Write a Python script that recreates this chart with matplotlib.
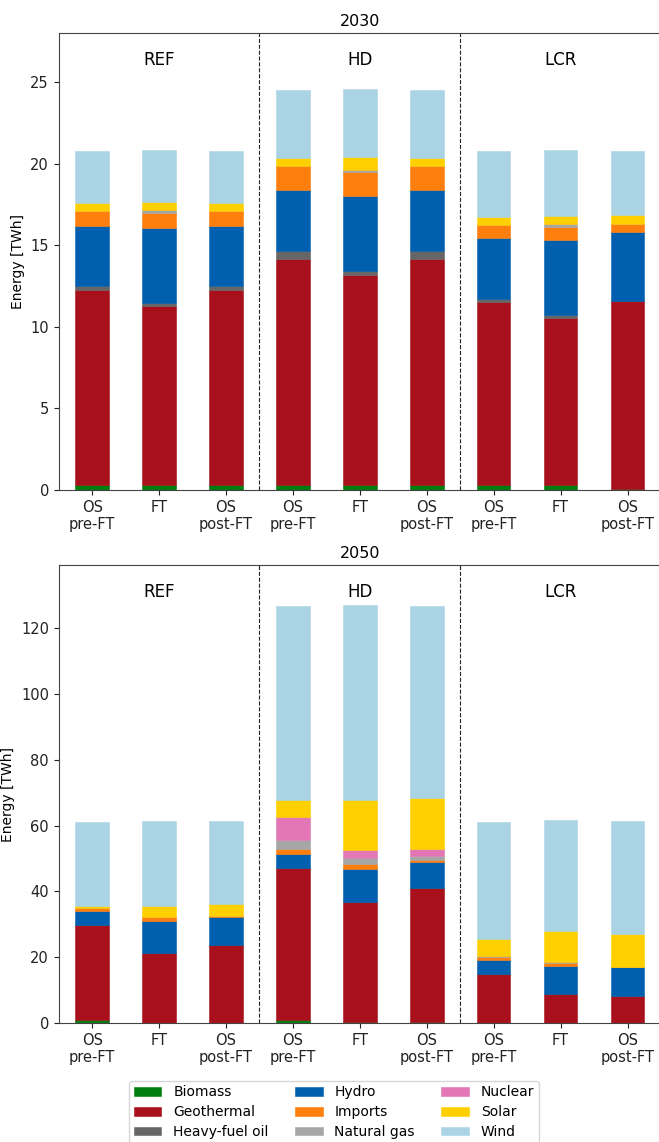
import matplotlib
matplotlib.use("Agg")
import matplotlib.pyplot as plt
from matplotlib.transforms import blended_transform_factory
import numpy as np

technologies = ["Biomass", "Geothermal", "Heavy-fuel oil", "Hydro", "Imports",
                "Natural gas", "Nuclear", "Solar", "Wind"]
colors = ["#007d0f", "#a8111b", "#666666", "#005fae", "#ff7f0e",
          "#a6a6a6", "#e377b5", "#ffd000", "#aad4e4"]

scenarios = ["REF", "HD", "LCR"]
runs = ["OS\npre-FT", "FT", "OS\npost-FT"]

# 2030 values [TWh], 9 bars: REF(pre,FT,post), HD(...), LCR(...)
y2030_biomass    = [0.30, 0.30, 0.30, 0.30, 0.30, 0.30, 0.30, 0.30, 0.05]
y2030_geothermal = [11.94, 10.97, 11.94, 13.85, 12.87, 13.85, 11.24, 10.22, 11.53]
y2030_hfo        = [0.26, 0.21, 0.26, 0.51, 0.25, 0.51, 0.16, 0.18, 0.00]
y2030_hydro      = [3.68, 4.59, 3.68, 3.70, 4.61, 3.70, 3.72, 4.62, 4.22]
y2030_imports    = [0.92, 0.92, 0.92, 1.49, 1.46, 1.49, 0.82, 0.79, 0.52]
y2030_natgas     = [0.00, 0.17, 0.00, 0.00, 0.11, 0.00, 0.00, 0.19, 0.00]
y2030_nuclear    = [0.00, 0.00, 0.00, 0.00, 0.00, 0.00, 0.00, 0.00, 0.00]
y2030_solar      = [0.50, 0.51, 0.50, 0.51, 0.80, 0.51, 0.49, 0.51, 0.53]
y2030_wind       = [3.17, 3.16, 3.17, 4.15, 4.17, 4.15, 4.04, 4.02, 3.94]

# 2050 values [TWh]
y2050_biomass    = [1.0, 0.0, 0.0, 1.0, 0.4, 0.4, 0.0, 0.0, 0.0]
y2050_geothermal = [28.9, 21.2, 23.65, 46.0, 36.55, 40.7, 14.9, 8.7, 8.3]
y2050_hfo        = [0.0, 0.0, 0.0, 0.0, 0.0, 0.0, 0.0, 0.0, 0.0]
y2050_hydro      = [4.15, 9.76, 8.55, 4.3, 9.85, 8.0, 4.3, 8.65, 8.65]
y2050_imports    = [1.0, 1.2, 0.3, 1.6, 1.7, 0.6, 0.9, 0.9, 0.0]
y2050_natgas     = [0.0, 0.0, 0.0, 2.8, 1.7, 1.1, 0.3, 0.4, 0.0]
y2050_nuclear    = [0.0, 0.0, 0.0, 7.0, 2.3, 2.0, 0.0, 0.0, 0.0]
y2050_solar      = [0.6, 3.5, 3.6, 5.0, 15.4, 15.5, 5.1, 9.3, 10.25]
y2050_wind       = [25.6, 25.8, 25.3, 59.1, 59.2, 58.4, 35.6, 33.8, 34.1]

data = {
    "2030": [y2030_biomass, y2030_geothermal, y2030_hfo, y2030_hydro, y2030_imports,
             y2030_natgas, y2030_nuclear, y2030_solar, y2030_wind],
    "2050": [y2050_biomass, y2050_geothermal, y2050_hfo, y2050_hydro, y2050_imports,
             y2050_natgas, y2050_nuclear, y2050_solar, y2050_wind],
}
ylims = {"2030": 28.0, "2050": 139.3}
yticks = {"2030": [0, 5, 10, 15, 20, 25], "2050": [0, 20, 40, 60, 80, 100, 120]}

W, H = 659, 1142
fig = plt.figure(figsize=(W / 100, H / 100), dpi=100)

positions = {"2030": [58.7 / W, 1 - 490 / H, (661 - 58.7) / W, (490 - 33) / H],
             "2050": [58.7 / W, 1 - 1023 / H, (661 - 58.7) / W, (1023 - 565) / H]}

spine_col = "#444444"
handles = None
for year in ["2030", "2050"]:
    ax = fig.add_axes(positions[year])
    x = np.arange(len(scenarios) * len(runs))
    bottom = np.zeros(len(x))
    hs = []
    for tech, col, vals in zip(technologies, colors, data[year]):
        vals = np.array(vals, dtype=float)
        h = ax.bar(x, vals, width=0.5, bottom=bottom, color=col, label=tech,
                   edgecolor=col, linewidth=0.4)
        hs.append(h)
        bottom += vals
    handles = hs
    ax.set_xlim(-0.5, len(x) - 0.5)
    ax.set_ylim(0, ylims[year])
    ax.set_yticks(yticks[year])
    ax.set_xticks(x)
    ax.set_xticklabels(runs * len(scenarios), fontsize=10.5)
    ax.tick_params(axis="y", labelsize=10.5)
    for b in [2.5, 5.5]:
        ax.axvline(b, color="#222222", linestyle="--", linewidth=0.8)
    trans = blended_transform_factory(ax.transData, ax.transAxes)
    for i, s in enumerate(scenarios):
        ax.text(i * 3 + 1, 0.942, s, transform=trans, ha="center", va="center",
                fontsize=12)
    ax.set_title(year, fontsize=11.5, pad=5)
    ax.set_ylabel("Energy [TWh]", fontsize=10)
    for sp in ax.spines.values():
        sp.set_color(spine_col)
    ax.tick_params(colors="#222222")

fig.legend(handles, technologies, ncol=3, loc="upper center",
           bbox_to_anchor=(334 / W, 1 - 1081 / H), fontsize=10,
           handlelength=2.0, handleheight=0.6, handletextpad=0.85,
           columnspacing=1.9, labelspacing=0.42,
           frameon=True, borderpad=0.3, borderaxespad=0.0)

fig.savefig("out.png", dpi=100)
